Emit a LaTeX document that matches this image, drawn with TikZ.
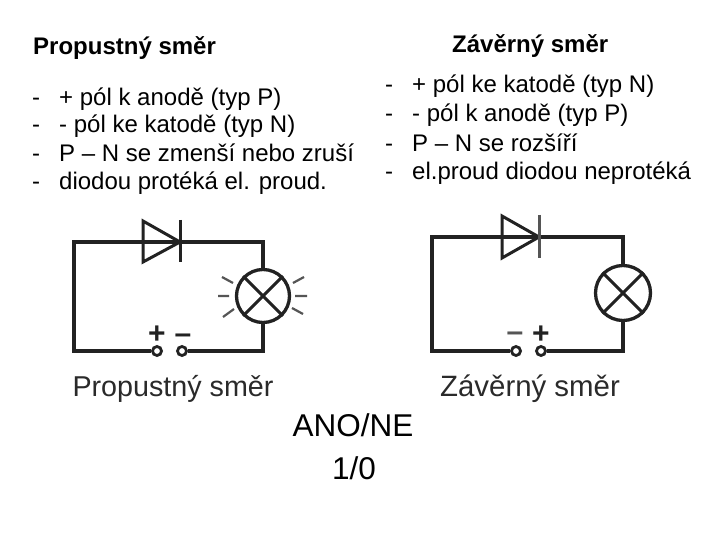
\documentclass[tikz,border=0pt]{standalone}
\usepackage{fontspec}
\setmainfont{Liberation Sans}
\tikzset{
  x=1pt,y=-1pt,
  wire/.style={draw=wirecol,line width=3.1pt,line join=miter},
  thinwire/.style={draw=wirecol,line width=3pt,line cap=butt},
  ray/.style={draw=raycol,line width=2.2pt},
  lamp/.style={circle,draw=wirecol,line width=3.3pt,minimum size=#1,inner sep=0pt,fill=white},
  terminal/.style={circle,draw=wirecol,line width=2.8pt,minimum size=9pt,inner sep=0pt,fill=white},
  txt/.style={anchor=base west,inner sep=0pt,font=\fontsize{24}{28}\selectfont,text=black},
  head/.style={txt,font=\fontsize{24}{28}\selectfont\bfseries,text=black},
  big/.style={anchor=base,inner sep=0pt,font=\fontsize{31.5}{36}\selectfont,text=black},
  caption/.style={anchor=base,inner sep=0pt,font=\fontsize{#1}{30}\selectfont,text=capcol},
  sign/.style={anchor=center,inner sep=0pt,font=\fontsize{30}{32}\selectfont\bfseries,text=wirecol},
}
\definecolor{wirecol}{HTML}{222222}
\definecolor{raycol}{HTML}{555555}
\definecolor{capcol}{HTML}{2A2A2A}
\begin{document}
\begin{tikzpicture}
\useasboundingbox[fill=white] (0,0) rectangle (720,540);
% headings and lists
\node[head] (h1) at (33,55) {Propustný směr};
\node[head] (h2) at (452,53) {Závěrný směr};
\node[txt] (a0) at (32,106) {-}; \node[txt] (a1) at (59,106) {+ pól k anodě (typ P)};
\node[txt] (b0) at (32,133) {-}; \node[txt] (b1) at (59,133) {- pól ke katodě (typ N)};
\node[txt] (c0) at (32,162) {-}; \node[txt] (c1) at (59,162) {P – N se zmenší nebo zruší};
\node[txt] (d0) at (32,190) {-}; \node[txt] (d1) at (59,190) {diodou protéká el. proud.};
\node[txt] (e0) at (385,93) {-}; \node[txt] (e1) at (412,93) {+ pól ke katodě (typ N)};
\node[txt] (f0) at (385,122) {-}; \node[txt] (f1) at (412,122) {- pól k anodě (typ P)};
\node[txt] (g0) at (385,152) {-}; \node[txt] (g1) at (412,152) {P – N se rozšíří};
\node[txt] (i0) at (385,180) {-}; \node[txt] (i1) at (412,180) {el.proud diodou neprotéká};
\node[big] (ano) at (353,436) {ANO/NE};
\node[big] (ten) at (354,479) {1/0};
% left circuit
\coordinate (lTL) at (74,242); \coordinate (lTR) at (263,242);
\coordinate (lBL) at (74,351); \coordinate (lBR) at (263,351);
\coordinate (lA) at (143,242); \coordinate (lK) at (180,242);
\node[lamp=53pt] (lL) at (263,296) {};
\node[terminal] (lP) at (157,351) {};
\node[terminal] (lM) at (182,351) {};
\draw[wire] (lP) -- (lBL) -- (lTL) -- (lA) -- (lK) -- (lTR) -- (lL);
\draw[wire] (lL) -- (lBR) -- (lM);
\draw[thinwire,line join=miter] (143,221) -- (lK) -- (143,262) -- cycle;
\draw[thinwire] (180,220) -- (180,262);
\draw[thinwire] (lL.45) -- (lL.225) (lL.135) -- (lL.315);
\draw[ray] (222,277) -- (233,283) (218,296) -- (229,296) (223,317) -- (234,309)
           (293,283) -- (304,277) (295,296) -- (307,296) (292,308) -- (303,314);
\node[sign] (lpl) at (157,335) {+};
\node[sign] (lmi) at (183,339) {–};
\node[caption=28.7] (lc) at (173,396.5) {Propustný směr};
% right circuit
\coordinate (rTL) at (432,237); \coordinate (rTR) at (623,237);
\coordinate (rBL) at (432,351); \coordinate (rBR) at (623,351);
\coordinate (rA) at (502,237); \coordinate (rK) at (539,237);
\node[lamp=55pt] (rL) at (623,293) {};
\node[terminal] (rM) at (516,351) {};
\node[terminal] (rP) at (541,351) {};
\draw[wire] (rM) -- (rBL) -- (rTL) -- (rA) -- (rK) -- (rTR) -- (rL);
\draw[wire] (rL) -- (rBR) -- (rP);
\draw[thinwire,line join=miter] (502,216) -- (rK) -- (502,258) -- cycle;
\draw[thinwire,draw=raycol] (539,215) -- (539,258);
\draw[thinwire] (rL.45) -- (rL.225) (rL.135) -- (rL.315);
\node[sign,text=raycol] (rmi) at (515,337) {–};
\node[sign] (rpl) at (541,335) {+};
\node[caption=29.4] (rc) at (530,396) {Závěrný směr};
\end{tikzpicture}
\end{document}
